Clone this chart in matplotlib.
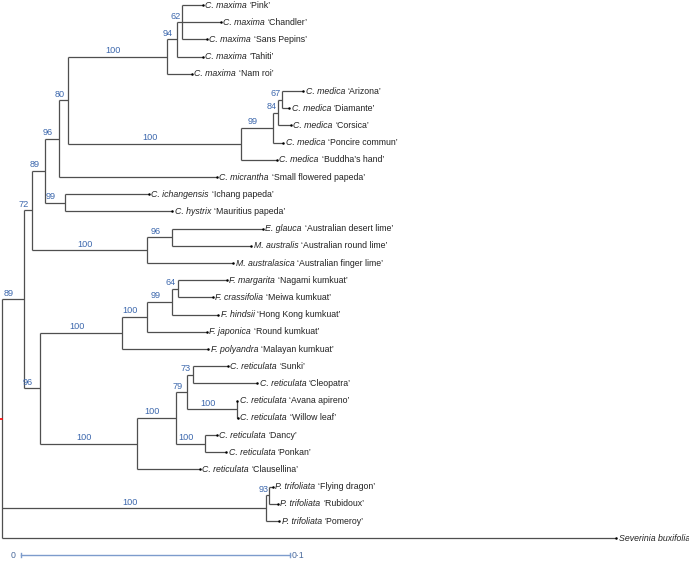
import matplotlib
matplotlib.use("Agg")
import matplotlib.pyplot as plt

plt.rcParams['font.family'] = ['Liberation Sans', 'DejaVu Sans']

# ---- leaves (top to bottom) ----
species = ["C. maxima", "C. maxima", "C. maxima", "C. maxima", "C. maxima",
           "C. medica", "C. medica", "C. medica", "C. medica", "C. medica",
           "C. micrantha", "C. ichangensis", "C. hystrix",
           "E. glauca", "M. australis", "M. australasica",
           "F. margarita", "F. crassifolia", "F. hindsii", "F. japonica", "F. polyandra",
           "C. reticulata", "C. reticulata", "C. reticulata", "C. reticulata",
           "C. reticulata", "C. reticulata", "C. reticulata",
           "P. trifoliata", "P. trifoliata", "P. trifoliata",
           "Severinia buxifolia"]
cultivars = ["‘Pink’", "‘Chandler’", "‘Sans Pepins’", "‘Tahiti’", "‘Nam roi’",
             "‘Arizona’", "‘Diamante’", "‘Corsica’", "‘Poncire commun’", "‘Buddha’s hand’",
             "‘Small flowered papeda’", "‘Ichang papeda’", "‘Mauritius papeda’",
             "‘Australian desert lime’", "‘Australian round lime’", "‘Australian finger lime’",
             "‘Nagami kumkuat’", "‘Meiwa kumkuat’", "‘Hong Kong kumkuat’",
             "‘Round kumkuat’", "‘Malayan kumkuat’",
             "‘Sunki’", "‘Cleopatra’", "‘Avana apireno’", "‘Willow leaf’",
             "‘Dancy’", "‘Ponkan’", "‘Clausellina’",
             "‘Flying dragon’", "‘Rubidoux’", "‘Pomeroy’",
             ""]
# distance from root to each tip (substitutions per site)
tip_depth = [0.0747, 0.0814, 0.0762, 0.0747, 0.0706,
             0.1119, 0.1067, 0.1074, 0.1045, 0.1022,
             0.0799, 0.0546, 0.0632,
             0.0970, 0.0926, 0.0859,
             0.0836, 0.0784, 0.0803, 0.0762, 0.0766,
             0.0840, 0.0948, 0.0874, 0.0877, 0.0799, 0.0833, 0.0736,
             0.1007, 0.1026, 0.1030,
             0.2283]

# ---- internal nodes: leaf range, depth, bootstrap ----
clade_first = [0, 0, 0, 0, 0, 0, 0, 0, 0, 5, 5, 5, 5, 11, 13, 13,
               16, 16, 16, 16, 16, 21, 21, 21, 21, 23, 25, 28, 28]
clade_last = [31, 27, 15, 12, 10, 9, 4, 3, 2, 9, 8, 7, 6, 12, 15, 14,
              27, 20, 19, 18, 17, 27, 26, 24, 22, 24, 26, 30, 29]
clade_depth = [0.0, 0.0082, 0.0112, 0.0160, 0.0212, 0.0245, 0.0613, 0.0651, 0.0669,
               0.0889, 0.1007, 0.1026, 0.1041, 0.0234, 0.0539, 0.0632,
               0.0141, 0.0446, 0.0539, 0.0632, 0.0654,
               0.0502, 0.0647, 0.0688, 0.0710, 0.0874, 0.0755,
               0.0981, 0.0993]
clade_support = [None, "89", "72", "89", "96", "80", "100", "94", "62",
                 "100", "99", "84", "67", "99", "100", "96",
                 "96", "100", "100", "99", "64",
                 "100", "100", "79", "73", "100", "100",
                 "100", "93"]

scale_length = 0.1
scale_labels = ["0", "0·1"]

# ---- build tree ----
n_leaf = len(species)
nodes = []  # (first, last, depth, support, is_leaf)
for i in range(n_leaf):
    nodes.append((i, i, tip_depth[i], None, True))
for f, l, d, s in zip(clade_first, clade_last, clade_depth, clade_support):
    nodes.append((f, l, d, s, False))

def children_of(k):
    f, l, d, s, leaf = nodes[k]
    res = []
    i = f
    while i <= l:
        best = None
        for j, (f2, l2, d2, s2, lf2) in enumerate(nodes):
            if j == k or f2 != i or l2 > l:
                continue
            if (f2, l2) == (f, l):
                continue
            if best is None or l2 > nodes[best][1]:
                best = j
        res.append(best)
        i = nodes[best][1] + 1
    return res

ypos = {}
def node_y(k):
    if k in ypos:
        return ypos[k]
    f, l, d, s, leaf = nodes[k]
    if leaf:
        y = float(f)
    else:
        ch = children_of(k)
        y = (node_y(ch[0]) + node_y(ch[-1])) / 2.0
    ypos[k] = y
    return y

# ---- figure ----
W, H = 689, 562
fig = plt.figure(figsize=(W / 100, H / 100), dpi=100)
ax = fig.add_axes([0, 0, 1, 1])
ax.axis('off')
px_per_unit = 2690.0
x0 = 2.0
ax.set_xlim(-x0 / px_per_unit, (W - x0) / px_per_unit)
row = 17.2
top = 5.0
ax.set_ylim((H - top) / row, -top / row)

line_col = '#4f4f4f'
boot_col = '#3d68ad'
lw = 0.9
fs = 6.3

for k in range(n_leaf, len(nodes)):
    f, l, d, s, leaf = nodes[k]
    ch = children_of(k)
    ys = [node_y(c) for c in ch]
    ax.plot([d, d], [ys[0], ys[-1]], color=line_col, lw=lw, solid_capstyle='butt')
    for c, yc in zip(ch, ys):
        dc = nodes[c][2]
        ax.plot([d, dc], [yc, yc], color=line_col, lw=lw, solid_capstyle='butt')
        sc = nodes[c][3]
        if sc is not None:
            ax.annotate(sc, xy=((d + dc) / 2, yc), xytext=(-3.0, 1.0),
                        textcoords='offset points', ha='center', va='bottom',
                        color=boot_col, fontsize=6.6)

# root marker
root_y = node_y(n_leaf)
ax.plot([-x0 / px_per_unit, 0.0], [root_y, root_y], color='red', lw=1.2)

# tips
for i in range(n_leaf):
    d = tip_depth[i]
    ax.plot([d], [i], marker='o', ms=1.8, color='black', mew=0)
    t1 = ax.annotate(species[i], xy=(d, i), xytext=(1.8, 0), textcoords='offset points',
                     ha='left', va='center', fontsize=fs, style='italic', color='#222222')
    if cultivars[i]:
        ax.annotate(cultivars[i], xy=(1, 0), xycoords=t1, xytext=(2.0, 0),
                    textcoords='offset points', ha='left', va='bottom',
                    fontsize=fs, color='#222222')

# scale bar
sb_col = '#7d9ccc'
sb_y = (555 - top) / row
sb_x0 = (21 - x0) / px_per_unit
sb_x1 = sb_x0 + scale_length
ax.plot([sb_x0, sb_x1], [sb_y, sb_y], color=sb_col, lw=1.0)
for xx in (sb_x0, sb_x1):
    ax.plot([xx, xx], [sb_y - 0.12, sb_y + 0.12], color=sb_col, lw=1.0)
ax.annotate(scale_labels[0], xy=(sb_x0, sb_y), xytext=(-4, 0), textcoords='offset points',
            ha='right', va='center', fontsize=fs, color='#4a6a9c')
ax.annotate(scale_labels[1], xy=(sb_x1, sb_y), xytext=(1.5, 0), textcoords='offset points',
            ha='left', va='center', fontsize=fs, color='#4a6a9c')

fig.savefig('out.png', dpi=100)
